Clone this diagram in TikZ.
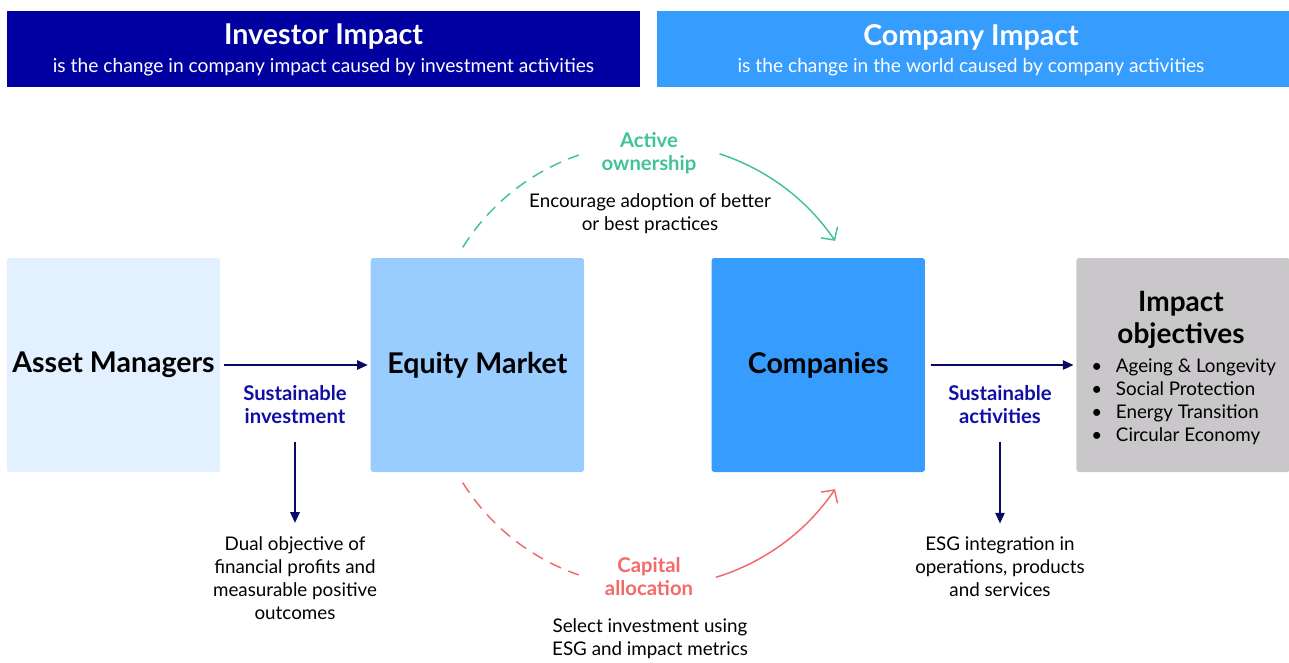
\documentclass[tikz,border=0pt]{standalone}
\usepackage{fontspec}
\setmainfont{Lato}
\usetikzlibrary{arrows.meta, positioning, calc}
\definecolor{invblue}{RGB}{0,0,160}
\definecolor{compblue}{RGB}{54,157,255}
\definecolor{equityblue}{RGB}{153,204,255}
\definecolor{assetblue}{RGB}{227,240,255}
\definecolor{impactgrey}{RGB}{201,199,201}
\definecolor{arrnavy}{RGB}{10,10,100}
\definecolor{lblblue}{RGB}{15,15,165}
\definecolor{aogreen}{RGB}{66,194,152}
\definecolor{capred}{RGB}{243,104,104}

\begin{document}
\begin{tikzpicture}[
  x=0.75pt, y=0.75pt,
  headbox/.style={rectangle, inner sep=0pt, minimum height=57pt},
  headtitle/.style={inner sep=0pt, text=white, font=\fontsize{21.5}{24}\selectfont\bfseries},
  headsub/.style={inner sep=0pt, text=white, font=\fontsize{14.4}{17}\selectfont},
  box/.style={rectangle, rounded corners=2pt, inner sep=0pt,
    minimum width=160pt, minimum height=160.5pt,
    font=\fontsize{21.4}{25}\selectfont\bfseries},
  lbl/.style={align=center, inner sep=0pt, font=\fontsize{15.2}{17.25}\selectfont\bfseries},
  txt/.style={align=center, inner sep=0pt, font=\fontsize{14.1}{17.25}\selectfont},
  arr/.style={-{Triangle[length=8pt, width=7pt]}, line width=1.2pt, arrnavy},
  loopline/.style={line width=1.1pt},
  loopdash/.style={loopline, dash pattern=on 9pt off 6pt},
  looparr/.style={loopline, -{Straight Barb[length=7pt, width=15pt]}},
]
  \useasboundingbox (0,0) rectangle (1289,-662);

  % Header bars
  \node[headbox, fill=invblue, minimum width=474.75pt] (invhead) at (323.5,-49) {};
  \node[headbox, fill=compblue, minimum width=474pt] (comphead) at (973,-49) {};
  \node[headtitle] (invtitle) at (323.5,-37) {Investor Impact};
  \node[headsub] (invsub) at (323.5,-67) {is the change in company impact caused by investment activities};
  \node[headtitle] (comptitle) at (971,-37) {Company Impact};
  \node[headsub] (compsub) at (971,-67) {is the change in the world caused by company activities};

  % Main chain of boxes
  \node[box, fill=assetblue] (asset) at (113.5,-365) {Asset Managers};
  \node[box, fill=equityblue, right=112.5pt of asset] (equity) {Equity Market};
  \node[box, fill=compblue, right=95.25pt of equity] (companies) {Companies};
  \node[box, fill=impactgrey, right=113.25pt of companies] (impact) {};
  \node[align=center, inner sep=0pt, font=\fontsize{21}{24}\selectfont\bfseries]
    (impacttitle) at (1181,-320) {Impact\\objectives};
  \node[align=left, inner sep=0pt, anchor=north west, font=\fontsize{14.1}{17.25}\selectfont]
    (impactlist) at (1091,-359) {%
      \makebox[18.5pt][l]{\textbullet}Ageing \& Longevity\\
      \makebox[18.5pt][l]{\textbullet}Social Protection\\
      \makebox[18.5pt][l]{\textbullet}Energy Transition\\
      \makebox[18.5pt][l]{\textbullet}Circular Economy};

  \draw[arr] ([xshift=3pt]asset.east) -- ([xshift=-2pt]equity.west);
  \draw[arr] ([xshift=4pt]companies.east) -- ([xshift=-2pt]impact.west);

  % Investor side
  \node[lbl, text=lblblue] (sustinv) at (295,-405) {Sustainable\\investment};
  \node[txt] (dualobj) at (295,-578) {Dual objective of\\financial profits and\\measurable positive\\outcomes};
  \draw[arr] ([yshift=-13pt]sustinv.south) -- ([yshift=10pt]dualobj.north);

  % Company side
  \node[lbl, text=lblblue] (sustact) at (1000,-405) {Sustainable\\activities};
  \node[txt] (esgint) at (1000,-567) {ESG integration in\\operations, products\\and services};
  \draw[arr] ([yshift=-13pt]sustact.south) -- ([yshift=10pt]esgint.north);

  % Loop between equity market and companies
  \coordinate (hub) at (651,-365);
  \coordinate (aostart) at ($(hub)+(148:166.5pt)$);
  \coordinate (aoend) at ($(hub)+(72:166.5pt)$);
  \coordinate (castart) at ($(hub)+(212:166.5pt)$);
  \coordinate (caend) at ($(hub)+(287:166.5pt)$);

  \draw[loopdash, aogreen] (aostart) arc[start angle=148, end angle=109, radius=166.5pt];
  \draw[looparr, aogreen] (aoend) arc[start angle=72, end angle=34, radius=166.5pt];
  \draw[loopdash, capred] (castart) arc[start angle=212, end angle=251, radius=166.5pt];
  \draw[looparr, capred] (caend) arc[start angle=287, end angle=326, radius=166.5pt];

  \node[lbl, text=aogreen] (actown) at (649,-153) {Active\\ownership};
  \node[txt] (encourage) at (650,-214) {Encourage adoption of better\\or best practices};
  \node[lbl, text=capred] (capalloc) at (649,-577) {Capital\\allocation};
  \node[txt] (selectinv) at (650,-639) {Select investment using\\ESG and impact metrics};
\end{tikzpicture}
\end{document}
